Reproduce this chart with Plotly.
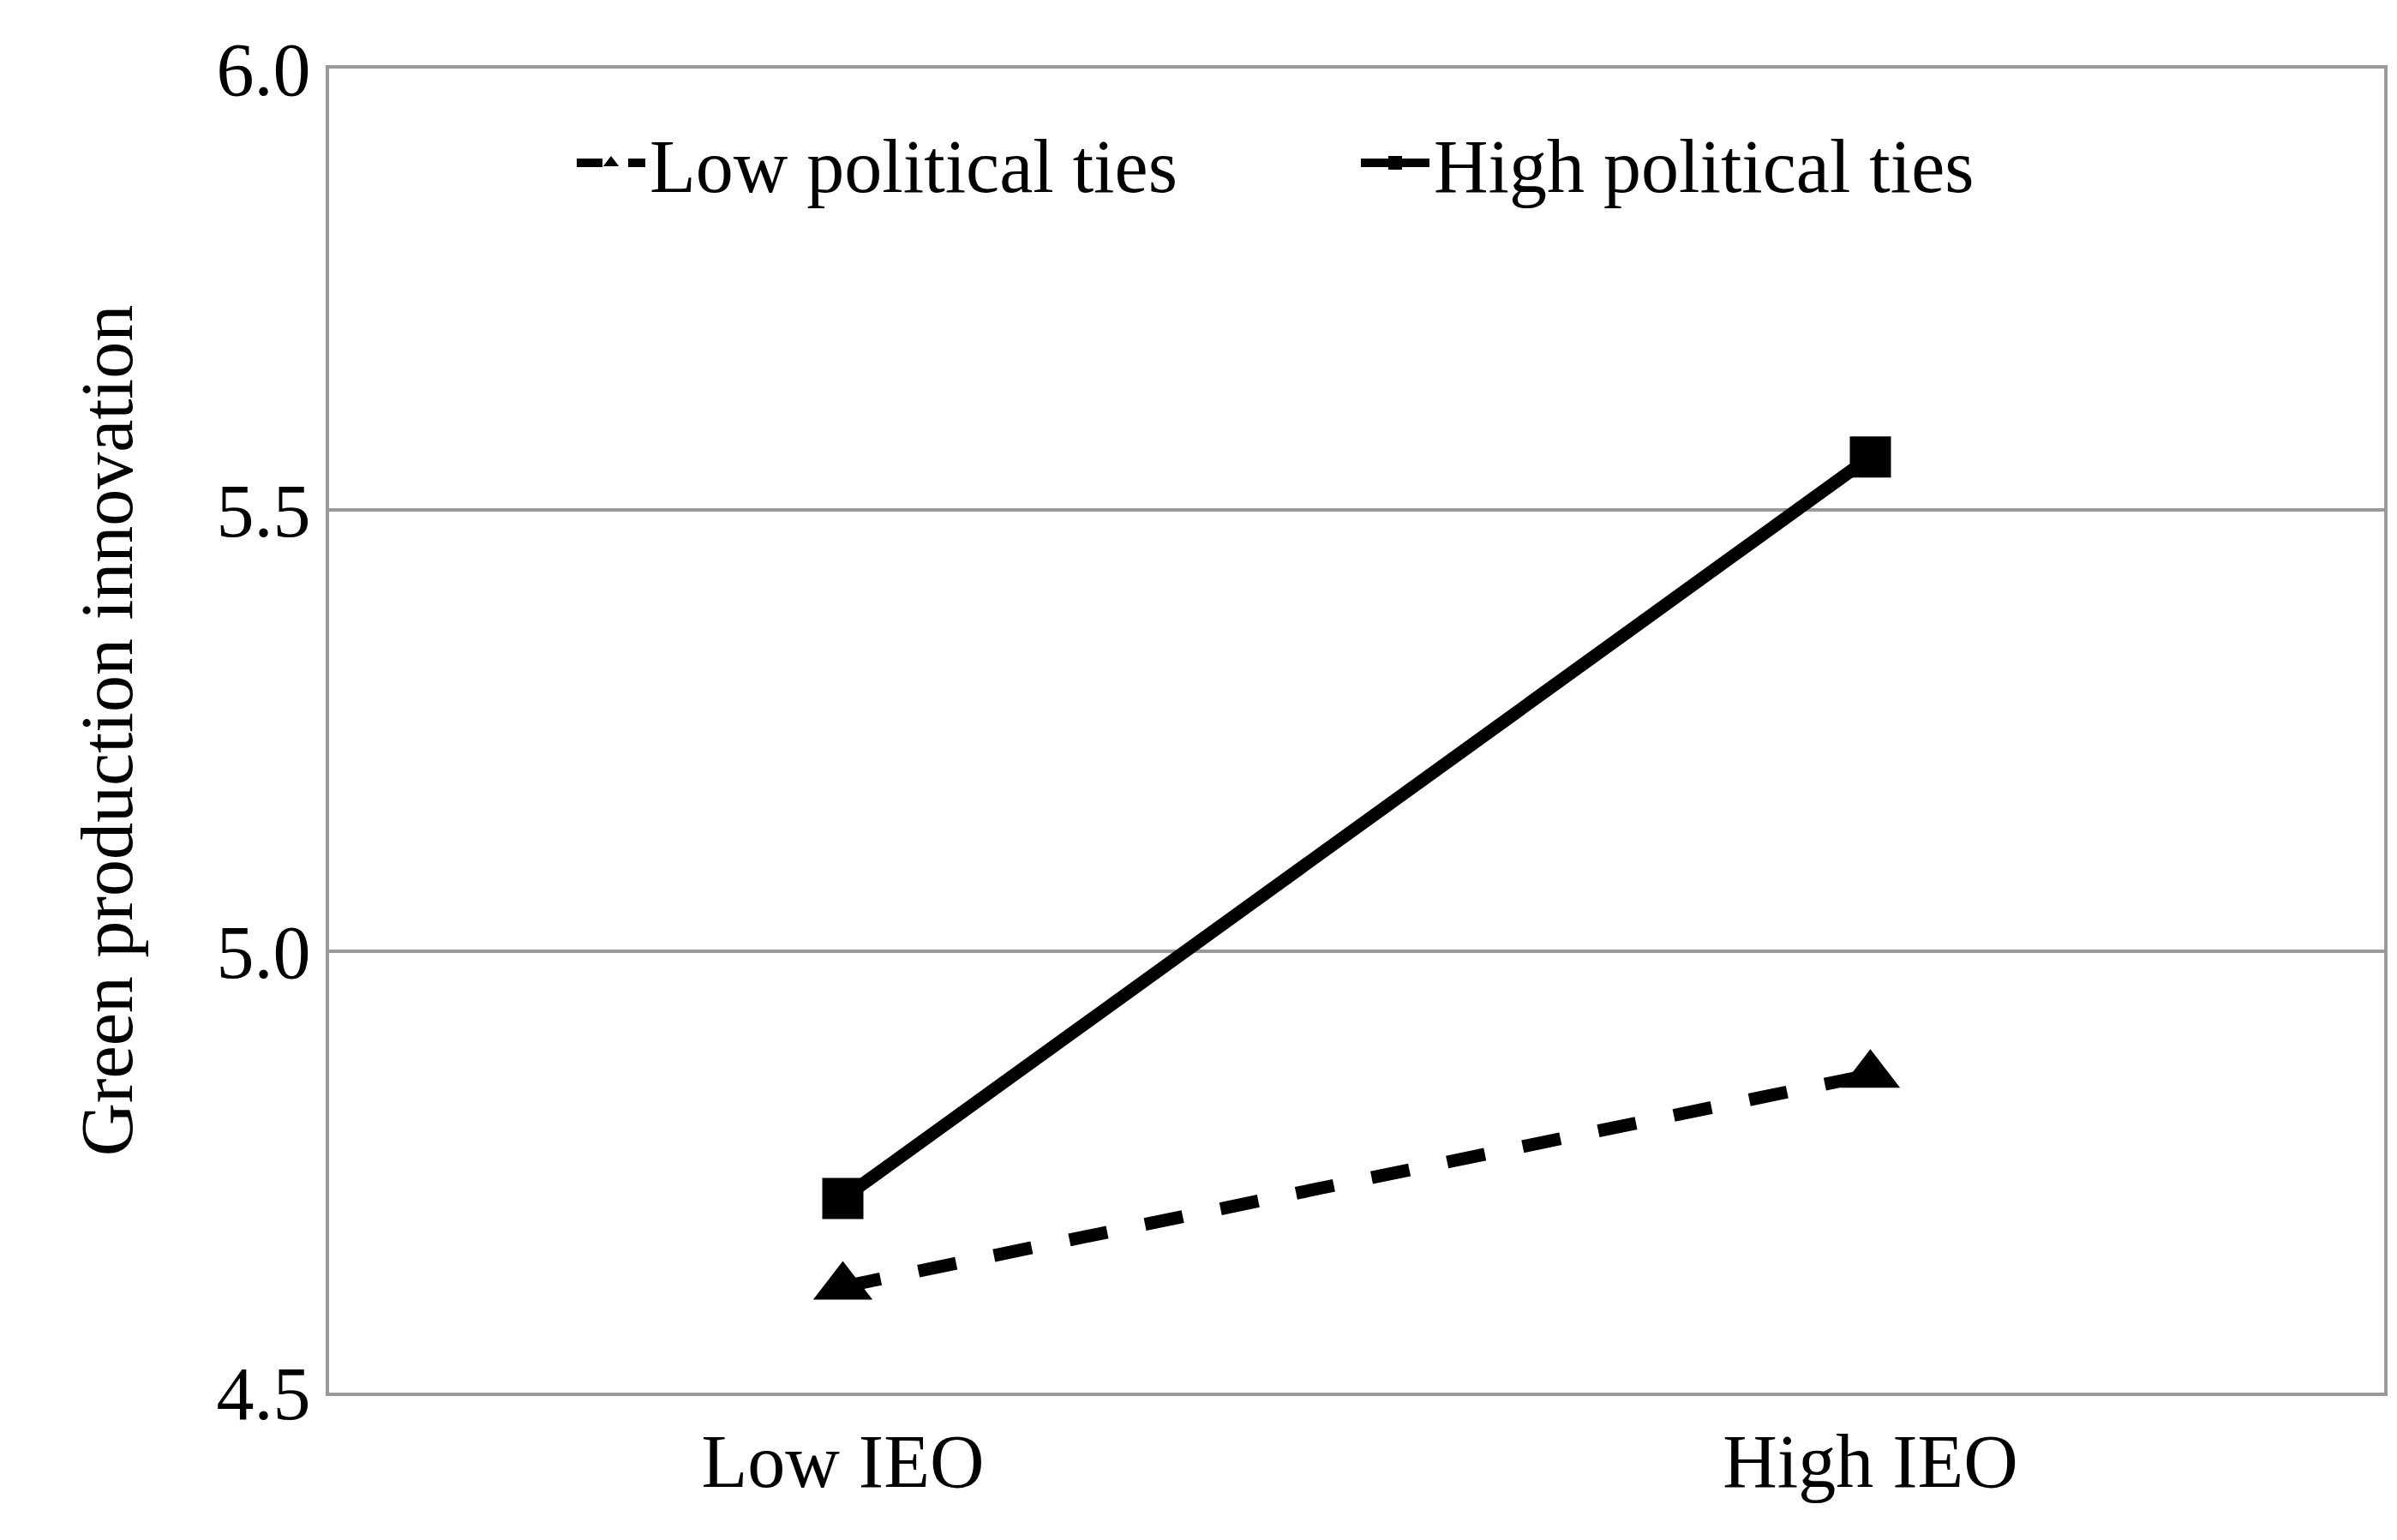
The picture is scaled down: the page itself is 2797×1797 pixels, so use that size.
import plotly.graph_objects as go

categories = ["Low IEO", "High IEO"]
low_ties = [4.62, 4.86]
high_ties = [4.72, 5.56]

fig = go.Figure()
fig.add_trace(go.Scatter(x=categories, y=low_ties, name="Low political ties",
                         mode="lines+markers",
                         line=dict(color="black", width=15, dash="dash"),
                         marker=dict(symbol="triangle-up", size=60, color="black")))
fig.add_trace(go.Scatter(x=categories, y=high_ties, name="High political ties",
                         mode="lines+markers",
                         line=dict(color="black", width=15),
                         marker=dict(symbol="square", size=48, color="black")))

font = dict(family="Liberation Serif", color="black")
fig.update_layout(
    width=2797, height=1797,
    margin=dict(l=376, r=23, t=72, b=180),
    paper_bgcolor="white", plot_bgcolor="white",
    font=dict(size=88, **font),
    legend=dict(orientation="h", x=0.5, xanchor="center", y=0.97, yanchor="top",
                font=dict(size=88, **font), bgcolor="rgba(0,0,0,0)",
                itemwidth=80, entrywidth=820),
    xaxis=dict(range=[-0.5, 1.5], showline=True, linecolor="#999999", linewidth=4,
               mirror=True, ticks="", tickfont=dict(size=88, **font)),
    yaxis=dict(range=[4.5, 6.0], dtick=0.5, tickformat=".1f", showline=True,
               linecolor="#999999", linewidth=4, mirror=True,
               gridcolor="#999999", gridwidth=4, zeroline=False,
               ticks="", tickfont=dict(size=88, **font),
               title=dict(text="Green production innovation", font=dict(size=86, **font),
                          standoff=70)),
)

fig.write_html("out.html")
